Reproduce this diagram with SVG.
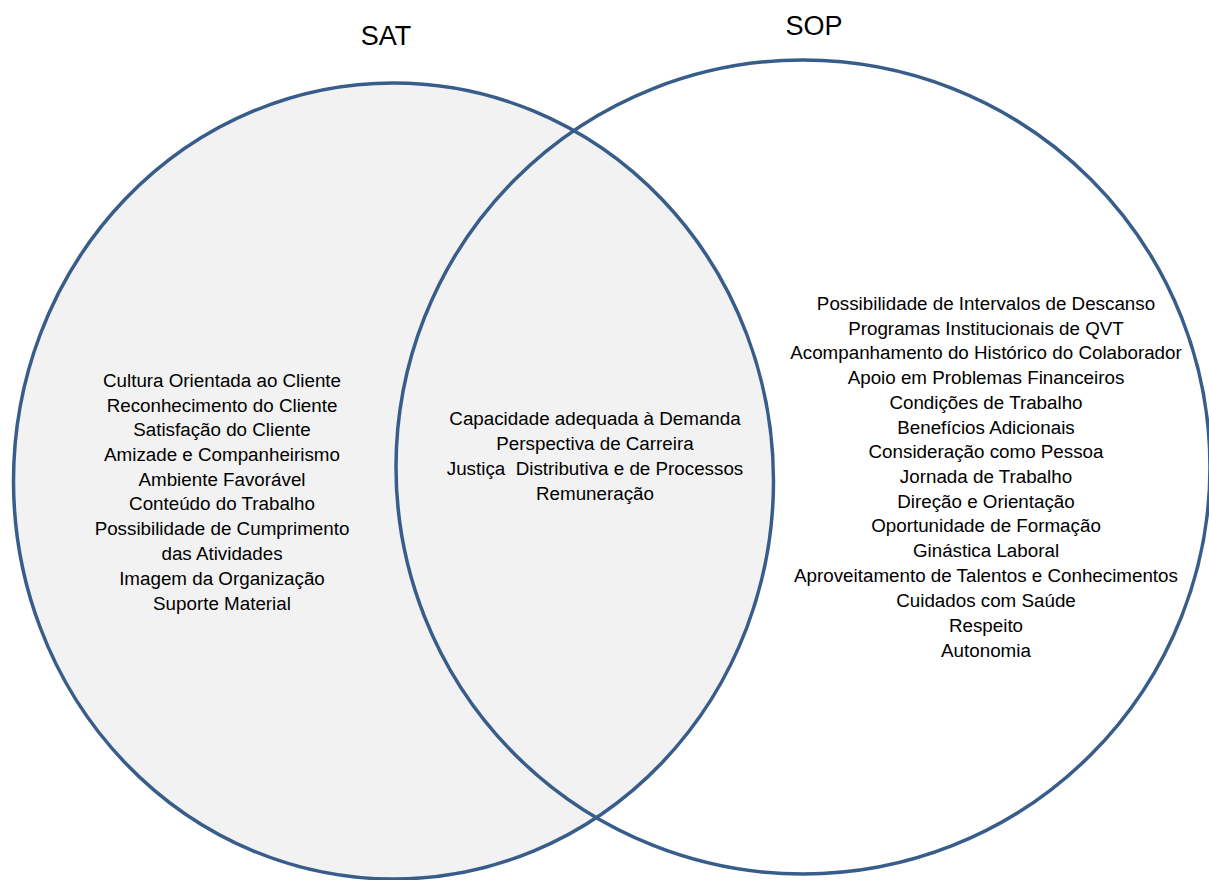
<svg xmlns="http://www.w3.org/2000/svg" width="1209" height="880" viewBox="0 0 1209 880">
<style>
.ring{stroke:#385D8A;stroke-width:3.5}
.t{font-family:"Liberation Sans",Arial,sans-serif;font-size:18.8px;fill:#000;text-anchor:middle}
.h{font-family:"Liberation Sans",Arial,sans-serif;font-size:27px;fill:#000;text-anchor:middle}
</style>
<rect width="1209" height="880" fill="#fff"/>
<g id="sat">
<ellipse class="ring" cx="393.5" cy="481" rx="380" ry="398" fill="#F2F2F2"/>
<text class="h" x="386" y="45">SAT</text>
<text class="t" x="222" y="387">Cultura Orientada ao Cliente</text>
<text class="t" x="222" y="412">Reconhecimento do Cliente</text>
<text class="t" x="222" y="436">Satisfação do Cliente</text>
<text class="t" x="222" y="461">Amizade e Companheirismo</text>
<text class="t" x="222" y="486">Ambiente Favorável</text>
<text class="t" x="222" y="510">Conteúdo do Trabalho</text>
<text class="t" x="222" y="535">Possibilidade de Cumprimento</text>
<text class="t" x="222" y="560">das Atividades</text>
<text class="t" x="222" y="585">Imagem da Organização</text>
<text class="t" x="222" y="610">Suporte Material</text>
</g>
<g id="sop">
<circle class="ring" cx="803" cy="467" r="407" fill="none"/>
<text class="h" x="814" y="35">SOP</text>
<text class="t" x="986" y="310">Possibilidade de Intervalos de Descanso</text>
<text class="t" x="986" y="335">Programas Institucionais de QVT</text>
<text class="t" x="986" y="359">Acompanhamento do Histórico do Colaborador</text>
<text class="t" x="986" y="384">Apoio em Problemas Financeiros</text>
<text class="t" x="986" y="409">Condições de Trabalho</text>
<text class="t" x="986" y="434">Benefícios Adicionais</text>
<text class="t" x="986" y="458">Consideração como Pessoa</text>
<text class="t" x="986" y="483">Jornada de Trabalho</text>
<text class="t" x="986" y="508">Direção e Orientação</text>
<text class="t" x="986" y="532">Oportunidade de Formação</text>
<text class="t" x="986" y="557">Ginástica Laboral</text>
<text class="t" x="986" y="582">Aproveitamento de Talentos e Conhecimentos</text>
<text class="t" x="986" y="607">Cuidados com Saúde</text>
<text class="t" x="986" y="632">Respeito</text>
<text class="t" x="986" y="657">Autonomia</text>
</g>
<g id="intersection">
<text class="t" x="595" y="425">Capacidade adequada à Demanda</text>
<text class="t" x="595" y="450">Perspectiva de Carreira</text>
<text class="t" x="595" y="475">Justiça&#160; Distributiva e de Processos</text>
<text class="t" x="595" y="500">Remuneração</text>
</g>
<g id="connectors"/>
</svg>
